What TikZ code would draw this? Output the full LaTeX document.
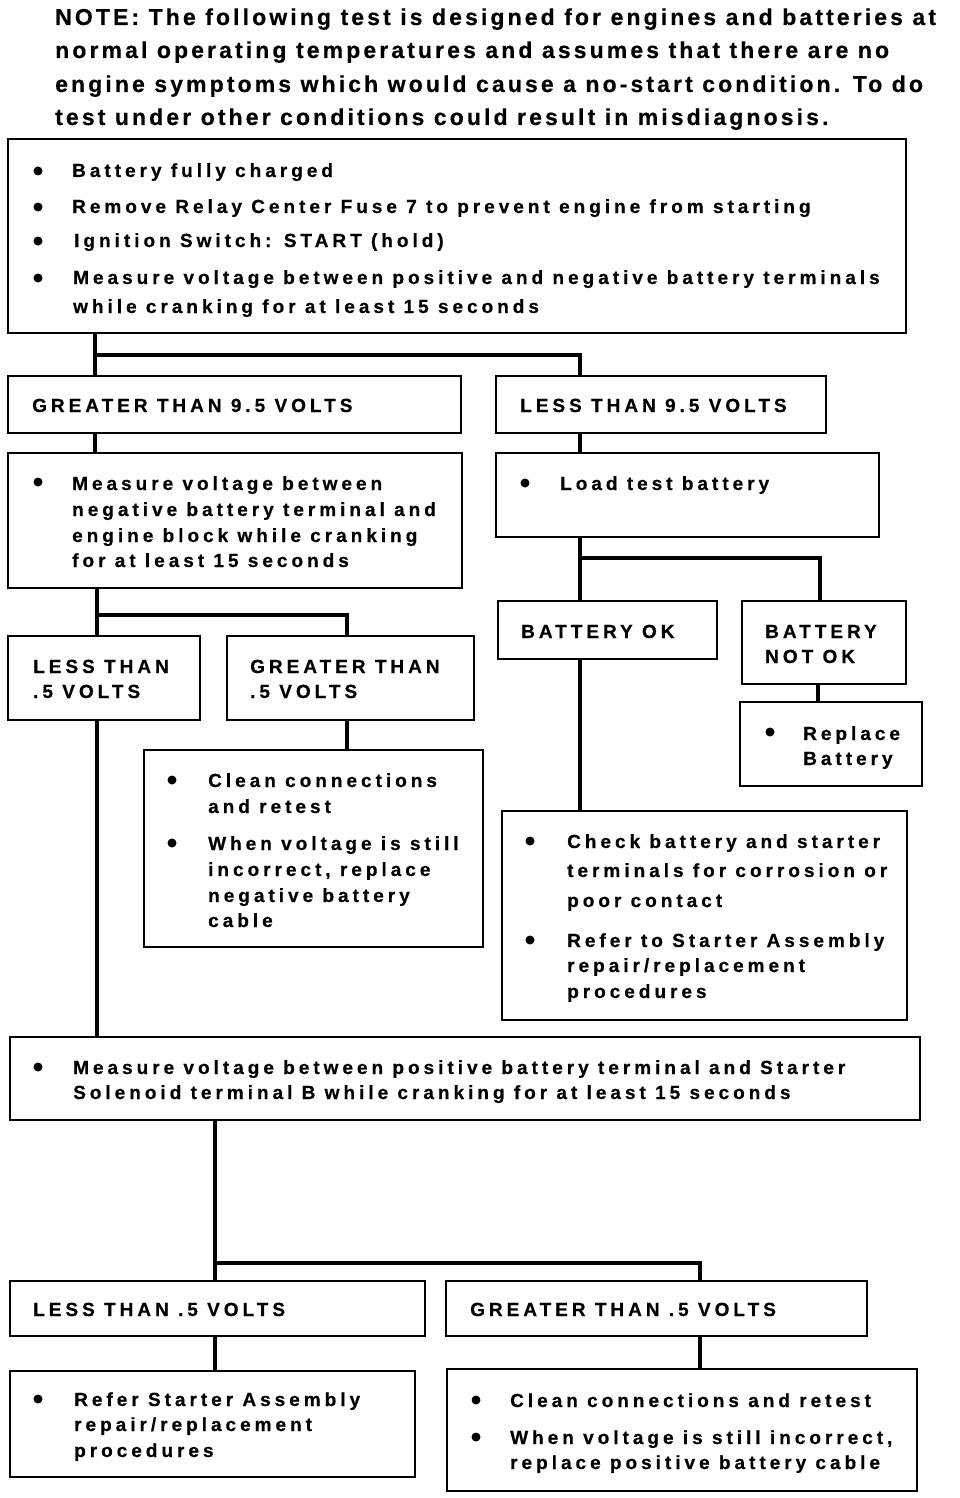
\documentclass[tikz,border=0pt]{standalone}
\usepackage{fontspec}
\setmainfont{Liberation Sans}
\newfontfamily\boxfont{Liberation Sans}[LetterSpace=21, BoldFeatures={FakeBold=0.5}]
\newfontfamily\notefont{Liberation Sans}[LetterSpace=13.5, BoldFeatures={FakeBold=0.5}]
\begin{document}
\begin{tikzpicture}[x=1pt,y=-1pt,
  box/.style={draw, line width=2.2pt, anchor=north west, inner sep=0pt, rectangle},
  conn/.style={draw, line width=3.6pt},
  txt/.style={anchor=base west, inner sep=0pt, font=\boxfont\bfseries\fontsize{19}{23}\selectfont},
  note/.style={anchor=base west, inner sep=0pt, font=\notefont\bfseries\fontsize{23}{27}\selectfont},
  bul/.style={fill=black}]
\useasboundingbox[fill=white] (0,0) rectangle (960,1498);

% note
\node[note] (n1) at (55,25) {NOTE: The following test is designed for engines and batteries at};
\node[note] (n2) at (55,58) {normal operating temperatures and assumes that there are no};
\node[note] (n3) at (55,92) {engine symptoms which would cause a no-start condition. To do};
\node[note] (n4) at (55,125) {test under other conditions could result in misdiagnosis.};

% boxes
\node[box, minimum width=898pt, minimum height=194pt] (b1) at (7,138) {};
\node[box, minimum width=453pt, minimum height=57pt] (g95) at (7,375) {};
\node[box, minimum width=330pt, minimum height=57pt] (l95) at (495,375) {};
\node[box, minimum width=454pt, minimum height=135pt] (m1) at (7,452) {};
\node[box, minimum width=383pt, minimum height=84pt] (lt) at (495,452) {};
\node[box, minimum width=219pt, minimum height=58pt] (bok) at (497,600) {};
\node[box, minimum width=164pt, minimum height=83pt] (bnok) at (741,600) {};
\node[box, minimum width=182pt, minimum height=84pt] (rb) at (739,701) {};
\node[box, minimum width=405pt, minimum height=209pt] (cb) at (501,810) {};
\node[box, minimum width=192pt, minimum height=84pt] (lt05) at (7,635) {};
\node[box, minimum width=247pt, minimum height=84pt] (gt05) at (226,635) {};
\node[box, minimum width=339pt, minimum height=197pt] (cc) at (143,749) {};
\node[box, minimum width=910pt, minimum height=83pt] (mp) at (9,1036) {};
\node[box, minimum width=415pt, minimum height=55pt] (lt05b) at (9,1280) {};
\node[box, minimum width=421pt, minimum height=55pt] (gt05b) at (445,1280) {};
\node[box, minimum width=405pt, minimum height=106pt] (rs) at (9,1370) {};
\node[box, minimum width=470pt, minimum height=122pt] (cc2) at (446,1368) {};

% junction coordinates
\coordinate (ja) at (95,355);
\coordinate (jb) at (580,355);
\coordinate (jc) at (580,558);
\coordinate (jd) at (820,558);
\coordinate (je) at (818,690);
\coordinate (jf) at (97,615);
\coordinate (jg) at (347,615);
\coordinate (jh) at (215,1263);
\coordinate (ji) at (700,1263);

% connectors
\draw[conn] (b1.south -| ja) -- (g95.north -| ja);
\draw[conn] (ja) -| (l95.north -| jb);
\draw[conn] (g95.south -| ja) -- (m1.north -| ja);
\draw[conn] (l95.south -| jb) -- (lt.north -| jb);
\draw[conn] (lt.south -| jc) -- (bok.north -| jc);
\draw[conn] (jc) -| (bnok.north -| jd);
\draw[conn] (bnok.south -| je) -- (rb.north -| je);
\draw[conn] (bok.south -| jc) -- (cb.north -| jc);
\draw[conn] (m1.south -| jf) -- (lt05.north -| jf);
\draw[conn] (jf) -| (gt05.north -| jg);
\draw[conn] (gt05.south -| jg) -- (cc.north -| jg);
\draw[conn] (lt05.south -| jf) -- (mp.north -| jf);
\draw[conn] (mp.south -| jh) -- (lt05b.north -| jh);
\draw[conn] (jh) -| (gt05b.north -| ji);
\draw[conn] (lt05b.south -| jh) -- (rs.north -| jh);
\draw[conn] (gt05b.south -| ji) -- (cc2.north -| ji);

% bullets
\foreach \bx/\by in {38/171, 38/207, 38/241, 38/278, 38/482, 525/483, 770/732,
  530/841, 530/940, 172/780, 172/843, 38/1067, 38/1399, 476/1400, 476/1437}
  \fill[bul] (\bx,\by) circle (4.5pt);

% texts: top box
\node[txt] (t1) at (72,177) {Battery fully charged};
\node[txt] (t2) at (72,213) {Remove Relay Center Fuse 7 to prevent engine from starting};
\node[txt] (t3) at (74,247) {Ignition Switch: START (hold)};
\node[txt] (t4) at (73,284) {Measure voltage between positive and negative battery terminals};
\node[txt] (t5) at (73,313) {while cranking for at least 15 seconds};

\node[txt] (t6) at (32,412) {GREATER THAN 9.5 VOLTS};
\node[txt] (t7) at (520,412) {LESS THAN 9.5 VOLTS};

\node[txt] (t8) at (72,490) {Measure voltage between};
\node[txt] (t9) at (72,516) {negative battery terminal and};
\node[txt] (t10) at (72,542) {engine block while cranking};
\node[txt] (t11) at (72,567) {for at least 15 seconds};

\node[txt] (t12) at (560,490) {Load test battery};

\node[txt] (t13) at (521,638) {BATTERY OK};
\node[txt] (t14) at (765,638) {BATTERY};
\node[txt] (t15) at (765,663) {NOT OK};

\node[txt] (t16) at (803,740) {Replace};
\node[txt] (t17) at (803,765) {Battery};

\node[txt] (t18) at (567,848) {Check battery and starter};
\node[txt] (t19) at (567,877) {terminals for corrosion or};
\node[txt] (t20) at (567,907) {poor contact};
\node[txt] (t21) at (567,947) {Refer to Starter Assembly};
\node[txt] (t22) at (567,972) {repair/replacement};
\node[txt] (t23) at (567,998) {procedures};

\node[txt] (t24) at (33,673) {LESS THAN};
\node[txt] (t25) at (33,698) {.5 VOLTS};
\node[txt] (t26) at (250,673) {GREATER THAN};
\node[txt] (t27) at (250,698) {.5 VOLTS};

\node[txt] (t28) at (208,787) {Clean connections};
\node[txt] (t29) at (208,813) {and retest};
\node[txt] (t30) at (208,850) {When voltage is still};
\node[txt] (t31) at (208,876) {incorrect, replace};
\node[txt] (t32) at (208,902) {negative battery};
\node[txt] (t33) at (208,927) {cable};

\node[txt] (t34) at (73,1074) {Measure voltage between positive battery terminal and Starter};
\node[txt] (t35) at (73,1099) {Solenoid terminal B while cranking for at least 15 seconds};

\node[txt] (t36) at (33,1316) {LESS THAN .5 VOLTS};
\node[txt] (t37) at (470,1316) {GREATER THAN .5 VOLTS};

\node[txt] (t38) at (74,1406) {Refer Starter Assembly};
\node[txt] (t39) at (74,1431) {repair/replacement};
\node[txt] (t40) at (74,1457) {procedures};

\node[txt] (t41) at (510,1407) {Clean connections and retest};
\node[txt] (t42) at (510,1444) {When voltage is still incorrect,};
\node[txt] (t43) at (510,1469) {replace positive battery cable};
\end{tikzpicture}
\end{document}
